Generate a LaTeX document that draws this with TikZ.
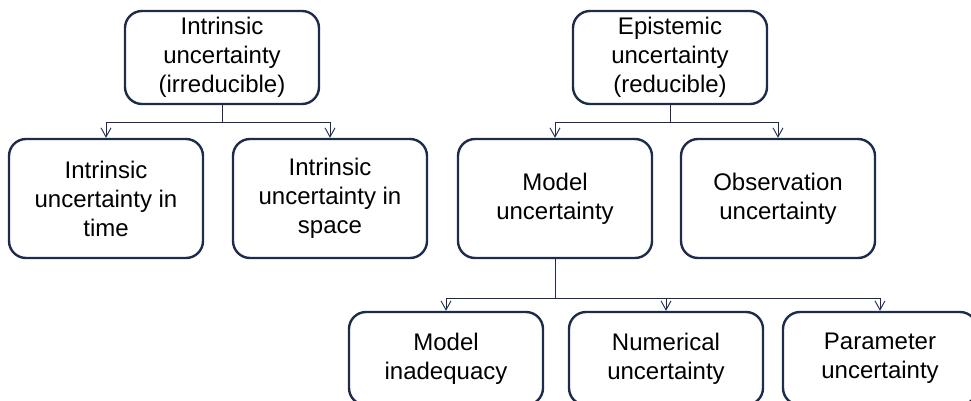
\documentclass[tikz,border=0pt]{standalone}
\usepackage{fontspec}
\setmainfont{Liberation Sans}
\usepackage{xcolor}
\usepackage{tikz}
\usetikzlibrary{calc, arrows.meta}
\definecolor{navy}{RGB}{28,44,74}
\tikzstyle{box}   = [draw=navy, line width=2.4pt, rounded corners=17pt, align=center,
                     minimum width=194pt, inner sep=2pt,
                     font=\fontsize{24}{29}\selectfont]
\tikzstyle{arrow} = [draw=navy, line width=0.9pt, -{Straight Barb[length=9pt,width=10pt]}]

\begin{document}
\begin{tikzpicture}[x=1pt, y=-1pt]
  \clip (0,0) rectangle (971,401);

  % irreducible branch
  \node[box, minimum height=93pt]  (irr)   at (222,57.5)  {Intrinsic\\uncertainty\\(irreducible)};
  \node[box, minimum height=119pt] (time)  at (106,198.5) {Intrinsic\\uncertainty in\\time};
  \node[box, minimum height=119pt] (space) at (330,198.5) {Intrinsic\\uncertainty in\\space};

  % reducible branch
  \node[box, minimum height=93pt]  (epi)   at (670,57.5)  {Epistemic\\uncertainty\\(reducible)};
  \node[box, minimum height=119pt] (model) at (555,198.5) {Model\\uncertainty};
  \node[box, minimum height=119pt] (obs)   at (778,198.5) {Observation\\uncertainty};

  % sources of model uncertainty
  \node[box, minimum height=93pt]  (inad)  at (446,358.5) {Model\\inadequacy};
  \node[box, minimum height=93pt]  (num)   at (666,358.5) {Numerical\\uncertainty};
  \node[box, minimum height=93pt]  (par)   at (880,358.5) {Parameter\\uncertainty};

  % connectors
  \coordinate (j1) at ($(irr.south)+(0,17)$);
  \coordinate (j2) at ($(epi.south)+(0,17)$);
  \coordinate (j3) at ($(model.south)+(0,39)$);
  \draw[navy, line width=0.9pt] (irr.south) -- (j1) (epi.south) -- (j2) (model.south) -- (j3);
  \draw[arrow] (j1) -| (time.north);
  \draw[arrow] (j1) -| (space.north);
  \draw[arrow] (j2) -| (model.north);
  \draw[arrow] (j2) -| (obs.north);
  \draw[arrow] (j3) -| (inad.north);
  \draw[arrow] (j3) -| (num.north);
  \draw[arrow] (j3) -| (par.north);
\end{tikzpicture}
\end{document}
